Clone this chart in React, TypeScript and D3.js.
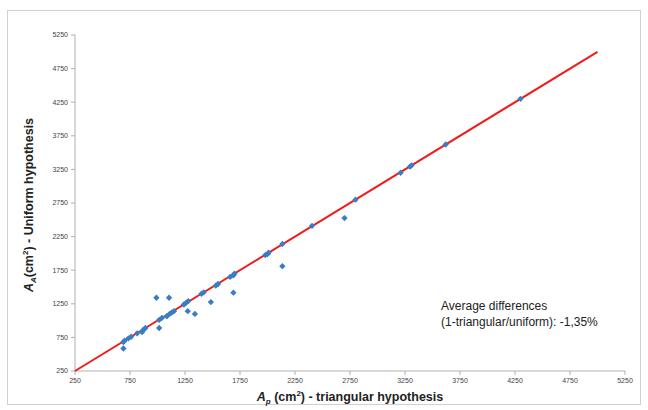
import React from "react";
import * as d3 from "d3";

const tickValues = [250, 750, 1250, 1750, 2250, 2750, 3250, 3750, 4250, 4750, 5250];
const lineX = [250, 5000];
const pointsX = [690, 690, 700, 735, 760, 815, 860, 870, 890, 990, 1015, 1015, 1040, 1085, 1105, 1110, 1130, 1150, 1240, 1260, 1275, 1280, 1340, 1400, 1420, 1485, 1530, 1550, 1660, 1690, 1700, 1690, 1980, 2000, 2010, 2135, 2135, 2405, 2700, 2800, 3210, 3295, 3310, 3620, 4300];
const pointsY = [585, 680, 700, 735, 760, 810, 830, 860, 890, 1340, 890, 1010, 1040, 1065, 1340, 1100, 1120, 1140, 1240, 1265, 1140, 1290, 1100, 1400, 1420, 1275, 1520, 1545, 1650, 1675, 1700, 1415, 1975, 1990, 2010, 2140, 1810, 2410, 2525, 2800, 3200, 3290, 3310, 3620, 4300];
const noteLines = ["Average differences", "(1-triangular/uniform): -1,35%"];

export default function App() {
  const x = d3.scaleLinear().domain([250, 5250]).range([75, 625]);
  const y = d3.scaleLinear().domain([250, 5250]).range([371, 35]);
  const line = d3.line<number>().x((d) => x(d)).y((d) => y(d));
  const square = d3.symbol().type(d3.symbolSquare).size(20)();
  const axisColor = "#b0b0b0";
  const font = "Liberation Sans, Arial, sans-serif";
  return (
    <svg width={648} height={410} style={{ position: "absolute", left: 0, top: 0, background: "#fff" }} fontFamily={font}>
      <rect x={7.5} y={10.5} width={633} height={394} fill="#fff" stroke="#d0d0d0" />
      <line x1={x(250)} x2={x(250)} y1={y(250)} y2={y(5250)} stroke={axisColor} />
      <line x1={x(250)} x2={x(5250)} y1={y(250)} y2={y(250)} stroke={axisColor} />
      {tickValues.map((t) => (
        <g key={"y" + t}>
          <line x1={x(250) - 4} x2={x(250)} y1={y(t)} y2={y(t)} stroke={axisColor} />
          <text x={x(250) - 7} y={y(t)} dy="0.33em" textAnchor="end" fontSize={7} fill="#444">{t}</text>
        </g>
      ))}
      {tickValues.map((t) => (
        <g key={"x" + t}>
          <line x1={x(t)} x2={x(t)} y1={y(250)} y2={y(250) + 4} stroke={axisColor} />
          <text x={x(t)} y={y(250) + 12} textAnchor="middle" fontSize={7} fill="#444">{t}</text>
        </g>
      ))}
      <path d={line(lineX) || ""} stroke="#ee1c1c" strokeWidth={2} fill="none" />
      {pointsX.map((px, i) => (
        <path key={i} d={square || ""} transform={`translate(${x(px)},${y(pointsY[i])}) rotate(45)`} fill="#3a7dc4" />
      ))}
      {noteLines.map((s, i) => (
        <text key={i} x={441} y={310 + i * 16} fontSize={12} fill="#222">{s}</text>
      ))}
      <text x={350} y={401} textAnchor="middle" fontSize={12.5} fontWeight="bold" fill="#222">
        <tspan fontStyle="italic">A</tspan>
        <tspan fontStyle="italic" fontSize={8} dy={3}>p</tspan>
        <tspan dy={-3}> (cm</tspan>
        <tspan fontSize={8} dy={-5}>2</tspan>
        <tspan dy={5}>) - triangular hypothesis</tspan>
      </text>
      <text transform="translate(33,205) rotate(-90)" textAnchor="middle" fontSize={12.5} fontWeight="bold" fill="#222">
        <tspan fontStyle="italic">A</tspan>
        <tspan fontStyle="italic" fontSize={8} dy={3}>A</tspan>
        <tspan dy={-3}>(cm</tspan>
        <tspan fontSize={8} dy={-5}>2</tspan>
        <tspan dy={5}>) - Uniform hypothesis</tspan>
      </text>
    </svg>
  );
}
